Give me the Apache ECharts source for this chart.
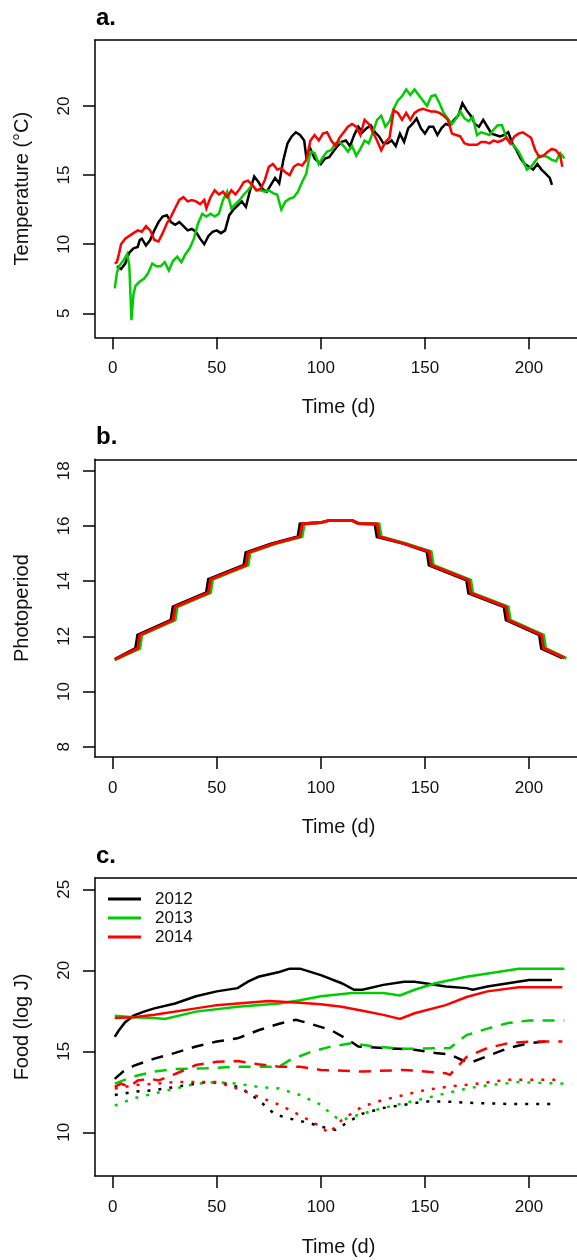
<!DOCTYPE html>
<html><head><meta charset="utf-8">
<script src="https://cdn.jsdelivr.net/npm/echarts@6/dist/echarts.min.js"></script>
<style>html,body{margin:0;padding:0;background:#fff}#c{width:577px;height:1260px}</style>
</head><body><div id="c"></div><script>
// ---------------- DATA ----------------
const years = ['2012', '2013', '2014'];
const xTickValues = [0, 50, 100, 150, 200];

// Panel a: temperature (°C), [day, value]
const temp2012 = [[2,8.4],[4,8.2],[6,8.6],[8,9.4],[10,9.7],[12,9.8],[13,10.3],[14,10.4],[16,9.9],[18,10.3],[20,11.0],[22,11.6],[24,12.0],[26,12.1],[28,11.6],[30,11.4],[32,11.6],[34,11.3],[36,11.0],[38,11.1],[40,10.9],[42,10.4],[44,10.0],[46,10.6],[48,10.9],[50,11.0],[52,10.8],[54,11.0],[56,12.1],[58,12.5],[60,12.8],[62,13.1],[64,12.7],[66,13.9],[68,14.9],[70,14.5],[72,14.0],[74,13.8],[76,14.3],[78,14.8],[80,14.4],[82,16.1],[84,17.3],[86,17.8],[88,18.1],[90,17.9],[92,17.5],[93,16.3],[95,16.9],[97,16.2],[100,15.8],[102,16.2],[104,16.3],[106,16.7],[108,17.1],[110,17.4],[112,17.5],[114,17.1],[116,17.9],[118,18.5],[120,18.1],[122,18.4],[124,18.6],[126,18.1],[128,17.8],[130,17.3],[132,17.3],[134,17.5],[136,17.1],[138,18.0],[140,17.4],[142,18.4],[144,18.7],[146,19.1],[148,18.4],[150,18.0],[152,18.5],[154,18.5],[156,17.9],[158,18.4],[160,18.7],[162,18.6],[164,19.0],[166,19.3],[168,20.2],[170,19.7],[172,19.3],[174,18.7],[176,18.5],[178,19.0],[180,18.5],[182,18.0],[184,17.9],[186,17.8],[188,17.9],[190,18.1],[192,17.3],[194,16.8],[196,16.2],[198,15.8],[200,15.6],[202,15.4],[204,15.8],[206,15.4],[208,15.1],[210,14.8],[211,14.3]];
const temp2013 = [[1,6.8],[2,7.9],[3,8.4],[5,8.8],[7,9.3],[8,8.4],[9,4.5],[10,6.4],[11,7.0],[13,7.3],[15,7.5],[17,7.9],[19,8.6],[21,8.4],[23,8.4],[25,8.7],[27,8.1],[29,8.8],[31,9.1],[33,8.7],[35,9.3],[37,9.7],[39,10.4],[41,11.5],[43,12.2],[45,12.0],[47,12.2],[49,12.0],[51,12.2],[53,13.2],[55,13.8],[57,12.6],[59,12.9],[61,13.2],[63,13.6],[65,13.9],[67,14.3],[69,13.9],[71,13.9],[73,13.8],[75,13.9],[77,13.7],[79,13.6],[81,12.5],[83,13.1],[85,13.3],[87,13.4],[89,13.8],[91,14.5],[93,15.1],[95,16.7],[97,16.6],[99,15.8],[101,16.3],[103,16.7],[105,16.8],[107,17.3],[109,17.4],[111,17.1],[113,16.7],[115,17.1],[117,16.4],[119,16.9],[121,17.5],[123,17.3],[125,18.1],[127,19.0],[129,19.3],[131,18.5],[133,18.9],[135,19.8],[137,20.4],[139,20.7],[141,21.2],[143,20.8],[145,21.2],[147,20.8],[149,20.4],[151,20.0],[153,20.7],[155,20.8],[157,20.2],[159,19.5],[161,19.1],[163,18.7],[165,19.1],[167,19.6],[169,19.1],[171,18.9],[173,19.2],[175,17.9],[177,18.1],[179,18.0],[181,17.9],[183,18.3],[185,18.6],[187,18.6],[189,17.8],[191,17.3],[193,17.1],[195,16.7],[197,16.1],[199,15.4],[201,15.6],[203,16.0],[205,16.4],[207,16.4],[209,16.3],[211,16.1],[213,16.0],[215,16.6],[217,16.2]];
const temp2014 = [[1,8.6],[2,8.7],[3,9.3],[4,10.0],[6,10.4],[8,10.6],[10,10.8],[12,11.0],[14,10.9],[16,11.3],[18,11.0],[20,10.3],[22,10.2],[24,10.8],[26,11.5],[28,12.0],[30,12.6],[32,13.2],[34,13.4],[36,13.1],[38,13.2],[40,13.1],[42,12.9],[44,13.2],[45,12.6],[47,13.4],[49,13.9],[51,13.6],[53,13.8],[55,13.4],[57,13.9],[59,13.6],[61,14.0],[63,14.5],[65,14.6],[67,14.3],[69,13.9],[71,14.0],[73,14.6],[75,15.6],[77,15.8],[79,15.4],[81,15.5],[83,15.2],[85,15.0],[87,15.6],[89,15.8],[91,15.7],[93,16.1],[95,17.5],[97,17.9],[99,17.5],[101,18.0],[103,18.1],[105,17.5],[107,17.1],[109,17.7],[111,18.1],[113,18.5],[115,18.7],[117,18.5],[119,17.9],[121,19.0],[123,18.7],[125,18.1],[127,17.5],[129,16.8],[131,17.4],[133,17.7],[135,19.7],[137,19.5],[139,19.0],[141,19.5],[143,19.0],[145,19.5],[147,19.7],[149,19.8],[151,19.7],[153,19.6],[155,19.6],[157,19.5],[159,19.3],[161,19.0],[163,18.0],[165,17.9],[167,17.8],[169,17.3],[171,17.2],[173,17.2],[175,17.2],[177,17.4],[179,17.4],[181,17.3],[183,17.5],[185,17.4],[187,17.5],[189,17.7],[191,17.3],[193,17.8],[195,18.0],[197,18.1],[199,17.9],[201,17.7],[203,16.8],[205,16.3],[207,16.4],[209,16.7],[211,16.9],[213,16.8],[215,16.4],[216,15.6]];

// Panel b: photoperiod (h), [day, value]
const photo2012 = [[1,11.17],[11,11.56],[12,12.05],[28,12.59],[29,13.07],[45,13.58],[46,14.06],[63,14.58],[64,15.03],[76,15.35],[89,15.61],[90,16.07],[100,16.12],[104,16.2],[115,16.2],[118,16.09],[126,16.07],[127,15.61],[140,15.36],[151,15.07],[152,14.58],[170,14.04],[171,13.56],[188,13.07],[189,12.59],[205,12.05],[206,11.56],[216,11.22]];
const photo2013 = [[1,11.15],[13,11.56],[14,12.05],[30,12.59],[31,13.07],[47,13.58],[48,14.06],[65,14.58],[66,15.03],[78,15.35],[91,15.61],[92,16.07],[100,16.12],[104,16.2],[115,16.2],[118,16.09],[128,16.07],[129,15.61],[141,15.36],[153,15.07],[154,14.58],[172,14.04],[173,13.56],[190,13.07],[191,12.59],[207,12.05],[208,11.56],[218,11.2]];
const photo2014 = [[1,11.16],[12,11.56],[13,12.05],[29,12.59],[30,13.07],[46,13.58],[47,14.06],[64,14.58],[65,15.03],[77,15.35],[90,15.61],[91,16.07],[100,16.12],[104,16.2],[115,16.2],[118,16.09],[127,16.07],[128,15.61],[140,15.36],[152,15.07],[153,14.58],[171,14.04],[172,13.56],[189,13.07],[190,12.59],[206,12.05],[207,11.56],[217,11.22]];

// Panel c: food (log J), three curves per year: solid, dashed, dotted
const foodSolid2012 = [[1,15.9],[3,16.3],[6,16.8],[10,17.2],[15,17.45],[20,17.65],[30,17.95],[40,18.4],[50,18.7],[60,18.9],[65,19.3],[70,19.6],[80,19.9],[85,20.1],[90,20.1],[95,19.9],[100,19.7],[110,19.2],[116,18.8],[120,18.8],[130,19.1],[140,19.3],[145,19.3],[150,19.2],[160,19.0],[170,18.9],[173,18.8],[180,19.0],[190,19.2],[200,19.4],[211,19.4]];
const foodSolid2013 = [[1,17.2],[10,17.1],[20,17.05],[25,17.0],[40,17.45],[60,17.75],[80,17.95],[90,18.15],[100,18.4],[115,18.6],[130,18.6],[138,18.45],[145,18.8],[155,19.2],[170,19.6],[185,19.9],[195,20.1],[217,20.1]];
const foodSolid2014 = [[1,17.05],[10,17.1],[20,17.25],[40,17.65],[50,17.85],[60,17.95],[75,18.1],[90,18.0],[100,17.9],[110,17.75],[120,17.5],[130,17.25],[138,17.0],[145,17.35],[160,17.85],[170,18.35],[180,18.7],[195,18.95],[216,18.95]];
const foodDashed2012 = [[1,13.3],[5,13.75],[10,14.1],[20,14.55],[30,14.9],[40,15.3],[50,15.6],[60,15.8],[70,16.3],[80,16.7],[88,16.95],[95,16.7],[105,16.3],[112,15.8],[118,15.3],[130,15.2],[145,15.1],[155,14.9],[162,14.8],[168,14.45],[172,14.3],[180,14.7],[190,15.2],[200,15.5],[211,15.65]];
const foodDashed2013 = [[1,13.0],[10,13.45],[20,13.75],[30,13.9],[45,13.95],[60,14.05],[80,14.05],[85,14.45],[95,14.95],[105,15.3],[115,15.5],[125,15.3],[140,15.15],[162,15.2],[170,16.0],[180,16.4],[190,16.75],[200,16.9],[217,16.9]];
const foodDashed2014 = [[1,12.8],[4,13.0],[8,12.8],[12,13.2],[18,13.3],[22,13.2],[30,13.6],[40,14.15],[50,14.35],[60,14.4],[70,14.2],[80,14.05],[90,14.05],[100,13.85],[120,13.75],[140,13.85],[160,13.65],[162,13.55],[170,14.65],[180,15.2],[190,15.5],[200,15.6],[216,15.6]];
const foodDotted2012 = [[1,12.3],[10,12.5],[20,12.6],[30,12.8],[45,13.1],[55,13.0],[62,12.7],[70,12.0],[78,11.1],[85,10.85],[95,10.55],[100,10.35],[107,10.15],[112,10.55],[120,11.15],[130,11.5],[140,11.7],[150,11.9],[160,11.9],[175,11.8],[190,11.75],[211,11.75]];
const foodDotted2013 = [[1,11.65],[10,12.1],[20,12.4],[30,12.7],[40,13.0],[50,13.1],[60,13.0],[70,12.8],[80,12.7],[90,12.3],[100,11.7],[106,11.0],[110,10.75],[120,11.15],[130,11.5],[140,11.8],[150,12.1],[160,12.4],[170,12.7],[180,12.9],[195,13.1],[217,13.0]];
const foodDotted2014 = [[1,12.7],[10,12.9],[20,13.0],[30,13.1],[40,13.1],[50,13.1],[60,12.7],[70,12.2],[80,11.7],[90,11.05],[100,10.35],[104,9.95],[110,10.75],[120,11.6],[130,12.0],[140,12.3],[150,12.6],[160,12.8],[175,13.0],[190,13.25],[216,13.25]];

// ---------------- LAYOUT / STYLE ----------------
const FONT = '"Liberation Sans", Arial, Helvetica, sans-serif';
const COLORS = { '2012': '#000000', '2013': '#00cd00', '2014': '#ff0000' };
const W = 577;
const X0PX = 112.7, XPPD = 2.0815;
const BOX_L = 95, BOX_R = W;
const xMin = (BOX_L - X0PX) / XPPD, xMax = (BOX_R - X0PX) / XPPD;

const panels = [
  { letter: 'a.', letterY: 18.6, ytitle: 'Temperature (\u00B0C)', boxTop: 40, boxBot: 337.3, tTopPx: 106, tBotPx: 313.3, tTop: 20, tBot: 5, step: 5, xTitleY: 407,
    series: [ [temp2012, '2012', 'solid'], [temp2013, '2013', 'solid'], [temp2014, '2014', 'solid'] ], lw: 2.5 },
  { letter: 'b.', letterY: 437.6, ytitle: 'Photoperiod', boxTop: 459.3, boxBot: 757, tTopPx: 470.7, tBotPx: 746.7, tTop: 18, tBot: 8, step: 2, xTitleY: 827,
    series: [ [photo2012, '2012', 'solid'], [photo2013, '2013', 'solid'], [photo2014, '2014', 'solid'] ], lw: 3 },
  { letter: 'c.', letterY: 856.6, ytitle: 'Food (log J)', boxTop: 878, boxBot: 1176, tTopPx: 889.3, tBotPx: 1132.3, tTop: 25, tBot: 10, step: 5, xTitleY: 1247,
    series: [ [foodSolid2012, '2012', 'solid'], [foodSolid2013, '2013', 'solid'], [foodSolid2014, '2014', 'solid'],
              [foodDashed2012, '2012', 'dashed'], [foodDashed2013, '2013', 'dashed'], [foodDashed2014, '2014', 'dashed'],
              [foodDotted2012, '2012', 'dotted'], [foodDotted2013, '2013', 'dotted'], [foodDotted2014, '2014', 'dotted'] ], lw: 2.5 }
];

const grid = [], xAxis = [], yAxis = [], series = [], graphic = [];
const tickStyle = { show: true, inside: false, length: 12, lineStyle: { color: '#000', width: 1.5 } };
const labelStyle = { color: '#111', fontSize: 17, fontFamily: FONT };
const frameLine = { show: true, onZero: false, lineStyle: { color: '#000', width: 1.5 } };

panels.forEach((p, pi) => {
  const ppu = (p.tBotPx - p.tTopPx) / (p.tTop - p.tBot);
  const yMax = p.tTop + (p.tTopPx - p.boxTop) / ppu;
  const yMin = p.tBot - (p.boxBot - p.tBotPx) / ppu;
  // main plotting box (frame drawn by axis lines: bottom, top, left; right edge lies off-canvas)
  const gMain = grid.length;
  grid.push({ left: BOX_L, top: p.boxTop, width: BOX_R - BOX_L, height: p.boxBot - p.boxTop, show: false });
  const xMainIdx = xAxis.length;
  xAxis.push({ type: 'value', gridIndex: gMain, position: 'bottom', min: xMin, max: xMax,
    axisLine: frameLine, axisTick: { show: false }, axisLabel: { show: false }, splitLine: { show: false } });
  xAxis.push({ type: 'value', gridIndex: gMain, position: 'top', min: xMin, max: xMax,
    axisLine: frameLine, axisTick: { show: false }, axisLabel: { show: false }, splitLine: { show: false } });
  const yMainIdx = yAxis.length;
  yAxis.push({ type: 'value', gridIndex: gMain, position: 'left', min: yMin, max: yMax,
    axisLine: frameLine, axisTick: { show: false }, axisLabel: { show: false }, splitLine: { show: false } });
  // x tick axis (0..200)
  const gX = grid.length;
  grid.push({ left: X0PX, top: p.boxBot - 10, width: 200 * XPPD, height: 10, show: false });
  xAxis.push({ type: 'value', gridIndex: gX, position: 'bottom', min: 0, max: 200, interval: 50,
    axisLine: { show: false }, axisTick: tickStyle, splitLine: { show: false },
    axisLabel: Object.assign({ margin: 23, customValues: xTickValues }, labelStyle) });
  yAxis.push({ type: 'value', gridIndex: gX, show: false, min: 0, max: 1 });
  // y tick axis
  const gY = grid.length;
  grid.push({ left: BOX_L, top: p.tTopPx, width: 10, height: p.tBotPx - p.tTopPx, show: false });
  xAxis.push({ type: 'value', gridIndex: gY, show: false, min: 0, max: 1 });
  yAxis.push({ type: 'value', gridIndex: gY, position: 'left', min: p.tBot, max: p.tTop, interval: p.step,
    axisLine: { show: false }, axisTick: tickStyle, splitLine: { show: false },
    axisLabel: Object.assign({ margin: 31, rotate: 90, align: 'center', verticalAlign: 'middle' }, labelStyle) });

  p.series.forEach(([data, yr, kind]) => {
    let type = 'solid';
    if (kind === 'dashed') type = [12, 9];
    if (kind === 'dotted') type = [3, 8];
    series.push({
      type: 'line', name: kind === 'solid' ? yr : yr + ' ' + kind,
      xAxisIndex: xMainIdx, yAxisIndex: yMainIdx, data: data,
      showSymbol: false, symbol: 'none', silent: true, animation: false, clip: true,
      itemStyle: { color: COLORS[yr] },
      lineStyle: { color: COLORS[yr], width: p.lw, type: type, cap: 'butt', join: 'miter' },
      emphasis: { disabled: true }
    });
  });

  graphic.push({ type: 'text', x: 96, y: p.letterY, style: { text: p.letter, font: 'bold 24px ' + FONT, fill: '#000', verticalAlign: 'middle' } });
  graphic.push({ type: 'text', x: 338.5, y: p.xTitleY, style: { text: 'Time (d)', font: '20px ' + FONT, fill: '#111', align: 'center', verticalAlign: 'middle' } });
  graphic.push({ type: 'text', x: 22, y: (p.boxTop + p.boxBot) / 2, rotation: Math.PI / 2,
    style: { text: p.ytitle, font: '20px ' + FONT, fill: '#111', align: 'center', verticalAlign: 'middle' } });
});

const chart = echarts.init(document.getElementById('c'), null, { renderer: 'canvas' });
chart.setOption({
  animation: false,
  backgroundColor: '#fff',
  grid, xAxis, yAxis, series, graphic,
  legend: {
    data: years, orient: 'vertical', left: 108, top: 889.5, padding: 0, itemGap: 0,
    icon: 'rect', itemWidth: 33, itemHeight: 3, selectedMode: false,
    textStyle: { fontSize: 17, fontFamily: FONT, color: '#111', lineHeight: 19, padding: [0, 0, 0, 9] }
  }
});
</script></body></html>
